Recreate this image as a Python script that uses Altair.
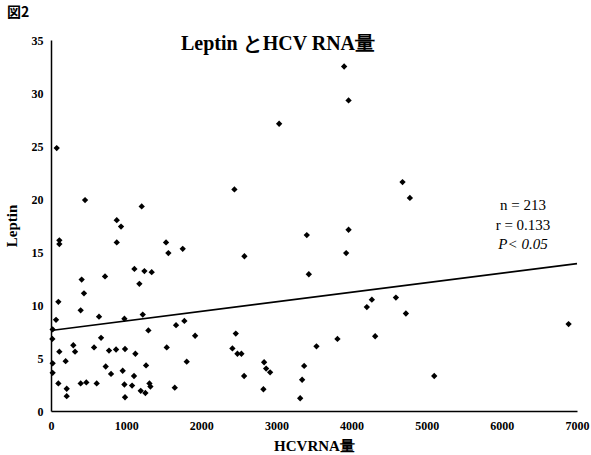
import altair as alt
import pandas as pd

hcv_rna = [76, 453, 1207, 875, 932, 2441, 3901, 3960, 3036, 4678, 4776, 3960,
           111, 111, 875, 1531, 1562, 1753, 408, 719, 1110, 1243, 1340, 1176,
           439, 98, 395, 67, 639, 977, 1221, 1775, 1664, 1296, 22, 18, 666,
           1918, 2459, 297, 320, 111, 573, 1540, 772, 866, 985, 1123, 2414,
           2481, 2534, 22, 195, 1806, 728, 1265, 22, 799, 954, 1105, 98, 395,
           470, 608, 977, 1079, 1310, 1323, 209, 209, 1194, 1256, 1647, 985,
           3404, 3928, 2574, 3431, 4270, 4203, 4590, 4723, 4314, 3812, 3533,
           2570, 2836, 2863, 2916, 2827, 3369, 3342, 3316, 6888, 5100]
leptin = [24.8, 19.9, 19.3, 18.0, 17.4, 20.9, 32.5, 29.3, 27.1, 21.6, 20.1, 17.1,
          16.1, 15.75, 15.9, 15.9, 14.9, 15.3, 12.4, 12.7, 13.4, 13.2, 13.1, 12.0,
          11.1, 10.3, 9.5, 8.6, 8.9, 8.7, 9.1, 8.5, 8.1, 7.6, 7.7, 6.8, 6.9,
          7.1, 7.3, 6.2, 5.6, 5.6, 6.0, 6.0, 5.7, 5.8, 5.85, 5.4, 5.9,
          5.4, 5.4, 4.5, 4.7, 4.65, 4.2, 4.3, 3.6, 3.5, 3.8, 3.3, 2.6, 2.6,
          2.7, 2.6, 2.5, 2.4, 2.6, 2.3, 2.1, 1.4, 1.9, 1.7, 2.2, 1.3,
          16.6, 14.9, 14.6, 12.9, 10.5, 9.8, 10.7, 9.2, 7.05, 6.8, 6.1,
          3.3, 4.6, 4.0, 3.65, 2.05, 4.25, 2.95, 1.2, 8.2, 3.3]

line_x = [0, 7000]
line_y = [7.6, 13.9]

stats_labels = ["n = 213", "r = 0.133", "P< 0.05"]
stats_styles = ["normal", "normal", "italic"]

x_ticks = [0, 1000, 2000, 3000, 4000, 5000, 6000, 7000]
y_ticks = [0, 5, 10, 15, 20, 25, 30, 35]

chart_title = "Leptin とHCV RNA量"
fig_label = "図2"

pts = pd.DataFrame({"x": hcv_rna, "y": leptin})
ln = pd.DataFrame({"x": line_x, "y": line_y})

SERIF = "Liberation Serif"

xscale = alt.Scale(domain=[0, 7000], nice=False, zero=True)
yscale = alt.Scale(domain=[0, 35], nice=False)

xaxis = alt.Axis(values=x_ticks, format="d", title="HCVRNA量", grid=False, ticks=False,
                 domainColor="black", domainWidth=1.5, labelFont=SERIF,
                 labelFontWeight="bold", labelFontSize=12, labelColor="black",
                 labelPadding=9, titleFont=SERIF, titleFontWeight="bold",
                 titleFontSize=15, titleColor="black", titlePadding=7,
                 labelFlush=False)
yaxis = alt.Axis(values=y_ticks, title="Leptin", grid=False, ticks=False,
                 domainColor="black", domainWidth=1.5, labelFont=SERIF,
                 labelFontWeight="bold", labelFontSize=12, labelColor="black",
                 labelPadding=8, titleFont=SERIF, titleFontWeight="bold",
                 titleFontSize=15, titleColor="black", titlePadding=12)

points = alt.Chart(pts).mark_point(shape="diamond", filled=True, color="black",
                                   size=40, opacity=1).encode(
    x=alt.X("x:Q", scale=xscale, axis=xaxis),
    y=alt.Y("y:Q", scale=yscale, axis=yaxis),
)

reg = alt.Chart(ln).mark_line(color="black", strokeWidth=1.6).encode(
    x=alt.X("x:Q", scale=xscale),
    y=alt.Y("y:Q", scale=yscale),
)

layers = [points, reg]
for i, (lab, sty) in enumerate(zip(stats_labels, stats_styles)):
    layers.append(
        alt.Chart(pd.DataFrame({"t": [lab]})).mark_text(
            font=SERIF, fontSize=15, fontStyle=sty, color="black",
            align="center", baseline="middle"
        ).encode(text="t:N", x=alt.value(472), y=alt.value(165 + i * 19.5))
    )

layers.append(
    alt.Chart(pd.DataFrame({"t": [chart_title]})).mark_text(
        font=SERIF, fontSize=20, fontWeight="bold", color="black",
        align="center", baseline="middle"
    ).encode(text="t:N", x=alt.value(227), y=alt.value(4))
)
layers.append(
    alt.Chart(pd.DataFrame({"t": [fig_label]})).mark_text(
        font="Noto Sans CJK JP", fontSize=14, fontWeight="bold", color="black",
        align="left", baseline="middle"
    ).encode(text="t:N", x=alt.value(-44), y=alt.value(-27))
)

chart = alt.layer(*layers).properties(
    width=526, height=371,
    autosize=alt.AutoSizeParams(type="none"),
    padding={"left": 51, "top": 40, "right": 14, "bottom": 44},
    background="white",
).configure_view(stroke=None)

chart.save("out.html", embed_options={"renderer": "svg", "actions": False})
